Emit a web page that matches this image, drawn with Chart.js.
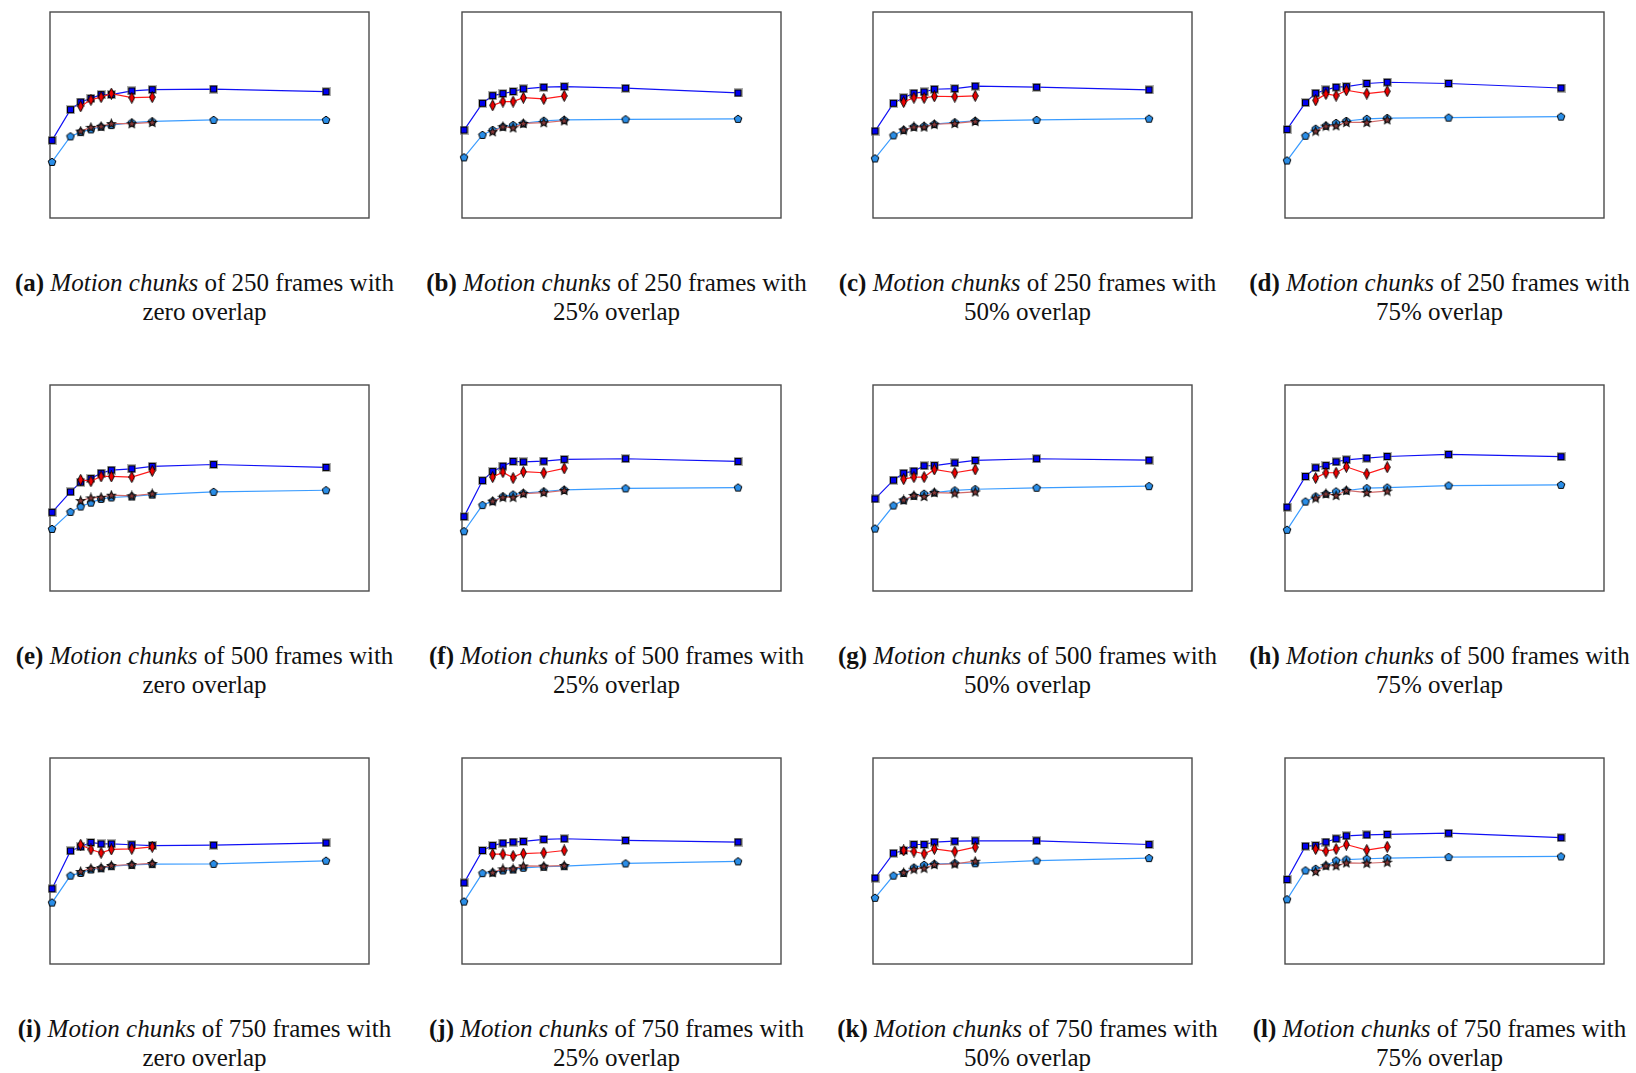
<!DOCTYPE html>
<html>
<head>
<meta charset="utf-8">
<script src="https://cdn.jsdelivr.net/npm/chart.js@4.4.1/dist/chart.umd.min.js"></script>
<style>
    body { margin: 0; background: #fff; width: 1636px; height: 1073px; position: relative; overflow: hidden; }
    canvas.panel { position: absolute; }
    .caption {
        position: absolute;
        width: 440px;
        text-align: center;
        font-family: "Liberation Serif", "DejaVu Serif", serif;
        font-size: 25px;
        line-height: 29px;
        color: #111;
        white-space: nowrap;
    }
</style>
</head>
<body>
<script>
// x positions shared by all panels (long runs and short runs)
const xLong = [1, 10, 15, 20, 25, 30, 40, 50, 80, 135];
const xShort = [15, 20, 25, 30, 40, 50];

const panelLetters = ['a', 'b', 'c', 'd', 'e', 'f', 'g', 'h', 'i', 'j', 'k', 'l'];
const chunkFrames = [250, 250, 250, 250, 500, 500, 500, 500, 750, 750, 750, 750];
const overlaps = ['zero', '25%', '50%', '75%', 'zero', '25%', '50%', '75%', 'zero', '25%', '50%', '75%'];

// one row per panel, a..l
const blueSquares = [
    [37.7, 52.6, 56.3, 58.1, 59.9, 59.9, 61.7, 62.3, 62.6, 61.3],
    [42.7, 55.7, 59.4, 60.4, 61.4, 62.7, 63.5, 63.8, 63.0, 60.7],
    [42.2, 55.7, 58.4, 60.6, 61.2, 62.5, 62.8, 64.0, 63.5, 62.2],
    [43.0, 56.0, 60.6, 62.2, 63.5, 63.8, 65.3, 65.9, 65.3, 63.1],
    [38.2, 48.1, 52.8, 54.6, 57.2, 58.7, 59.3, 60.5, 61.4, 60.0],
    [36.1, 53.6, 58.0, 60.6, 62.9, 62.7, 63.0, 63.9, 64.2, 62.9],
    [44.7, 53.8, 57.2, 58.2, 60.8, 60.9, 62.2, 63.4, 64.2, 63.5],
    [40.7, 55.6, 59.8, 60.9, 62.7, 63.7, 64.5, 65.3, 66.3, 65.2],
    [36.5, 54.9, 56.9, 59.0, 58.3, 58.3, 57.9, 57.5, 57.7, 58.8],
    [39.4, 55.1, 57.5, 58.7, 59.2, 59.5, 60.5, 60.8, 60.0, 59.2],
    [41.7, 53.8, 55.1, 58.0, 58.0, 59.2, 59.6, 59.8, 59.8, 58.0],
    [41.0, 57.2, 57.5, 59.2, 60.8, 62.2, 62.7, 62.9, 63.5, 61.3]
];

const redDiamonds = [
    [54.2, 57.4, 58.7, 60.4, 58.4, 58.7],
    [54.7, 56.5, 56.5, 58.4, 57.8, 59.3],
    [56.3, 58.4, 58.3, 59.1, 58.9, 59.3],
    [57.1, 60.2, 59.4, 62.0, 60.4, 61.5],
    [54.0, 53.3, 55.6, 55.6, 55.3, 58.3],
    [55.3, 57.7, 54.8, 57.9, 57.4, 59.5],
    [54.3, 55.3, 55.3, 59.0, 57.4, 59.0],
    [54.9, 57.4, 57.4, 60.3, 56.9, 60.1],
    [57.9, 55.6, 54.0, 55.6, 55.9, 56.9],
    [53.3, 53.3, 52.4, 53.6, 54.0, 55.1],
    [55.1, 54.6, 53.5, 55.9, 54.6, 56.7],
    [55.8, 54.8, 55.8, 58.0, 55.3, 56.9]
];

const cyanPentagons = [
    [27.2, 39.6, 41.7, 43.0, 44.3, 45.1, 46.3, 46.9, 47.6, 47.6],
    [29.4, 40.3, 42.7, 44.3, 45.1, 45.9, 47.2, 47.6, 47.9, 48.1],
    [28.9, 40.1, 42.7, 44.3, 44.6, 45.6, 46.4, 47.1, 47.6, 48.2],
    [27.9, 39.9, 43.3, 44.8, 46.1, 47.1, 48.1, 48.5, 48.7, 49.2],
    [30.1, 38.4, 41.0, 42.9, 44.7, 45.4, 45.9, 46.8, 48.1, 48.9],
    [29.0, 41.7, 43.6, 45.9, 46.8, 47.5, 48.3, 49.1, 49.8, 50.2],
    [30.3, 41.5, 44.1, 46.2, 47.2, 47.8, 48.8, 49.4, 50.1, 50.9],
    [29.7, 43.4, 45.9, 47.2, 48.3, 48.8, 49.9, 50.2, 51.2, 51.5],
    [29.8, 42.9, 44.2, 45.9, 46.5, 47.5, 48.1, 48.5, 48.6, 50.1],
    [30.3, 44.1, 44.4, 45.4, 45.9, 46.7, 47.2, 47.5, 48.8, 49.8],
    [32.1, 42.9, 44.2, 46.8, 48.1, 48.5, 48.9, 48.9, 50.2, 51.4],
    [31.4, 45.4, 46.2, 47.8, 50.2, 50.7, 51.1, 51.4, 51.9, 52.2]
];

const blackStars = [
    [42.2, 44.0, 44.5, 45.8, 45.8, 46.4],
    [41.9, 44.3, 43.8, 45.9, 46.3, 47.2],
    [42.7, 44.2, 44.2, 45.5, 45.9, 46.9],
    [42.2, 44.6, 44.8, 46.4, 46.4, 47.7],
    [43.9, 45.2, 45.5, 46.5, 46.2, 47.2],
    [43.6, 45.5, 45.5, 47.3, 47.8, 48.8],
    [44.2, 46.4, 45.9, 47.8, 47.5, 48.1],
    [45.1, 47.2, 46.4, 48.8, 47.8, 48.5],
    [44.9, 46.4, 46.7, 47.8, 48.3, 48.8],
    [44.4, 46.2, 46.2, 47.6, 47.5, 47.8],
    [44.4, 46.0, 46.5, 48.3, 48.6, 49.9],
    [44.9, 47.7, 47.7, 49.1, 48.9, 49.4]
];

const colLeft = [50, 462, 873, 1285];
const rowTop = [12, 385, 758];
const frameW = 319;
const frameH = 206;
const pad = 10;

const makeMarker = (w, h, draw) => {
    const c = document.createElement('canvas');
    c.width = w;
    c.height = h;
    draw(c.getContext('2d'), w, h);
    return c;
};

const squareMark = makeMarker(9, 9, (ctx) => {
    ctx.fillStyle = 'rgba(110, 110, 110, 0.55)';
    ctx.fillRect(0, 0, 9, 9);
    ctx.fillStyle = '#000';
    ctx.fillRect(1, 1, 7, 7);
    ctx.fillStyle = '#0000f0';
    ctx.fillRect(2, 2, 5, 5);
});

const diamondMark = makeMarker(7, 12, (ctx) => {
    ctx.beginPath();
    ctx.moveTo(3.5, 0.5);
    ctx.lineTo(6.3, 6);
    ctx.lineTo(3.5, 11.5);
    ctx.lineTo(0.7, 6);
    ctx.closePath();
    ctx.fillStyle = '#f00000';
    ctx.fill();
    ctx.strokeStyle = '#000';
    ctx.lineWidth = 1;
    ctx.stroke();
});

const polyPath = (ctx, cx, cy, n, rOut, rIn) => {
    ctx.beginPath();
    const steps = rIn ? n * 2 : n;
    for (let i = 0; i < steps; i += 1) {
        const r = rIn && i % 2 ? rIn : rOut;
        const a = -Math.PI / 2 + (i * 2 * Math.PI) / steps;
        const px = cx + r * Math.cos(a);
        const py = cy + r * Math.sin(a);
        if (i === 0) ctx.moveTo(px, py); else ctx.lineTo(px, py);
    }
    ctx.closePath();
};

const pentagonMark = makeMarker(10, 10, (ctx) => {
    polyPath(ctx, 5, 5.2, 5, 4.0);
    ctx.fillStyle = '#2a8ee8';
    ctx.fill();
    ctx.strokeStyle = '#000';
    ctx.lineWidth = 1;
    ctx.stroke();
});

const starMark = makeMarker(11, 11, (ctx) => {
    polyPath(ctx, 5.5, 5.8, 5, 4.4, 1.9);
    ctx.fillStyle = '#8a3a3a';
    ctx.fill();
    ctx.strokeStyle = '#0a0a0a';
    ctx.lineWidth = 1.1;
    ctx.stroke();
});

const framePlugin = {
    id: 'frame',
    beforeDatasetsDraw(chart) {
        const { left, top, right, bottom } = chart.chartArea;
        const ctx = chart.ctx;
        ctx.save();
        ctx.strokeStyle = '#4a4a4a';
        ctx.lineWidth = 1.4;
        ctx.strokeRect(left, top, right - left, bottom - top);
        ctx.restore();
    }
};

const toPoints = (xs, ys) => xs.map((x, i) => ({ x, y: ys[i] }));

const series = (label, data, lineColor, marker) => ({
    label,
    data,
    borderColor: lineColor,
    borderWidth: 1.2,
    pointStyle: marker,
    pointRadius: 4,
    clip: 12,
    tension: 0
});

panelLetters.forEach((letter, idx) => {
    const col = idx % 4;
    const row = Math.floor(idx / 4);
    const canvas = document.createElement('canvas');
    canvas.className = 'panel';
    canvas.width = frameW + pad * 2;
    canvas.height = frameH + pad * 2;
    canvas.style.left = (colLeft[col] - pad) + 'px';
    canvas.style.top = (rowTop[row] - pad) + 'px';
    document.body.appendChild(canvas);

    new Chart(canvas, {
        type: 'line',
        data: {
            datasets: [
                series('stars', toPoints(xShort, blackStars[idx]), '#d06a6a', starMark),
                series('diamonds', toPoints(xShort, redDiamonds[idx]), '#ff1a1a', diamondMark),
                series('pentagons', toPoints(xLong, cyanPentagons[idx]), '#3a9cff', pentagonMark),
                series('squares', toPoints(xLong, blueSquares[idx]), '#1010f5', squareMark)
            ]
        },
        options: {
            responsive: false,
            animation: false,
            events: [],
            layout: { padding: pad },
            plugins: { legend: { display: false }, tooltip: { enabled: false } },
            scales: {
                x: { type: 'linear', min: 0, max: 156, display: false },
                y: { type: 'linear', min: 0, max: 100, display: false }
            }
        },
        plugins: [framePlugin]
    });

    const cap = document.createElement('div');
    cap.className = 'caption';
    const centerX = colLeft[col] + frameW / 2 - 5;
    cap.style.left = (centerX - 220) + 'px';
    cap.style.top = (rowTop[row] + 256) + 'px';
    cap.innerHTML = `<b>(${letter})</b> <i>Motion chunks</i> of ${chunkFrames[idx]} frames with<br>${overlaps[idx]} overlap`;
    document.body.appendChild(cap);
});
</script>
</body>
</html>
